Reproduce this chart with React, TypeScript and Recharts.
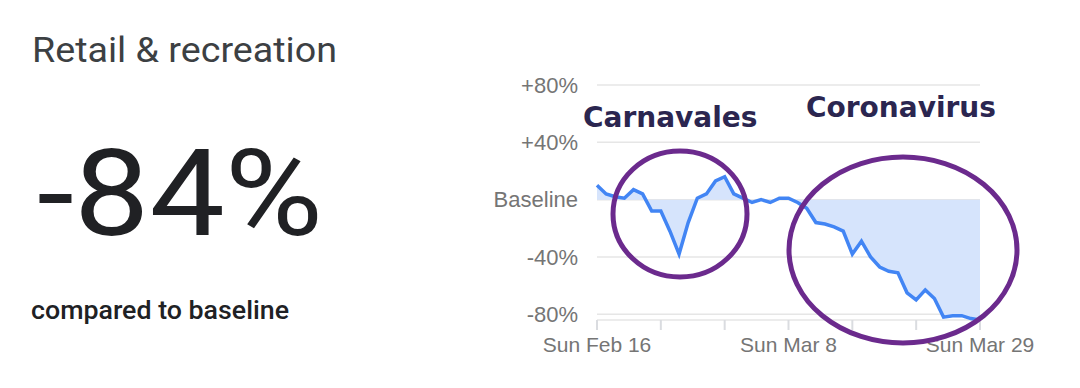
import React from 'react';
import { AreaChart, Area, XAxis, YAxis, CartesianGrid } from 'recharts';

// daily change vs baseline (%), Sun Feb 16 → Sun Mar 29
const values = [
  10, 4, 2, 1, 7, 4, -8, -8, -22, -38, -16, 1, 4, 13, 16,
  4, 1, -2, 0, -2, 1, 1, -2, -6, -16, -17, -19, -22, -38, -29,
  -40, -47, -50, -51, -65, -70, -63, -69, -82, -81, -81, -83, -84,
];

const weekTicks = [0, 7, 14, 21, 28, 35, 42];
const weekLabels = ['Sun Feb 16', '', '', 'Sun Mar 8', '', '', 'Sun Mar 29'];
const yTicks = [-80, -40, 0, 40, 80];

const data = values.map((value, day) => ({ day, value }));

const formatY = (v: number) => (v === 0 ? 'Baseline' : v > 0 ? `+${v}%` : `${v}%`);
const formatX = (d: number) => weekLabels[weekTicks.indexOf(d)] ?? '';

const axisFont = 'Arial, "Liberation Sans", sans-serif';

export default function App() {
  return (
    <div style={{ position: 'absolute', left: 0, top: 0, width: 1080, height: 388, background: '#fff', overflow: 'hidden' }}>
      <svg width={480} height={388} style={{ position: 'absolute', left: 0, top: 0 }}>
        <text x={32} y={62} fontFamily="Roboto, sans-serif" fontSize={35} fill="#3c4043" textLength={305} lengthAdjust="spacingAndGlyphs">
          Retail &amp; recreation
        </text>
        <text x={37} y={235} fontFamily="Roboto, sans-serif" fontWeight={400} fontSize={120} fill="#202124" textLength={286} lengthAdjust="spacingAndGlyphs">
          -84%
        </text>
        <text x={31} y={319} fontFamily="Roboto, sans-serif" fontWeight={500} fontSize={26} fill="#202124" textLength={258} lengthAdjust="spacingAndGlyphs">
          compared to baseline
        </text>
      </svg>

      <div style={{ position: 'absolute', left: 480, top: 0 }}>
        <AreaChart width={600} height={388} data={data} margin={{ top: 85, right: 100, bottom: 28, left: 0 }}>
          <CartesianGrid horizontal vertical={false} stroke="#e6e6e6" strokeWidth={1.5} />
          <XAxis
            dataKey="day"
            type="number"
            domain={[0, 42]}
            ticks={weekTicks}
            tickFormatter={formatX}
            height={40}
            axisLine={false}
            tickLine={{ stroke: '#dadce0', strokeWidth: 2 }}
            tickSize={10}
            tickMargin={7}
            tick={{ fill: '#757575', fontSize: 21, fontFamily: axisFont }}
            interval={0}
          />
          <YAxis
            type="number"
            domain={[-80, 80]}
            ticks={yTicks}
            tickFormatter={formatY}
            width={117}
            axisLine={false}
            tickLine={false}
            tickSize={0}
            tickMargin={19}
            tick={{ fill: '#757575', fontSize: 22, fontFamily: axisFont }}
            interval={0}
          />
          <Area
            type="linear"
            dataKey="value"
            baseValue={0}
            stroke="#4285f4"
            strokeWidth={3.5}
            fill="#d6e4fc"
            fillOpacity={1}
            dot={false}
            activeDot={false}
            isAnimationActive={false}
          />
        </AreaChart>
      </div>

      <svg width={1080} height={388} style={{ position: 'absolute', left: 0, top: 0, pointerEvents: 'none' }}>
        <ellipse cx={680} cy={214} rx={67} ry={63} fill="none" stroke="#6b2a8d" strokeWidth={5} />
        <ellipse cx={903} cy={250} rx={114} ry={93} fill="none" stroke="#6b2a8d" strokeWidth={5} />
        <text x={583} y={127} fontFamily='"DejaVu Sans", sans-serif' fontWeight={700} fontSize={28} fill="#2b2650">
          Carnavales
        </text>
        <text x={806} y={117} fontFamily='"DejaVu Sans", sans-serif' fontWeight={700} fontSize={28} fill="#2b2650">
          Coronavirus
        </text>
      </svg>
    </div>
  );
}
